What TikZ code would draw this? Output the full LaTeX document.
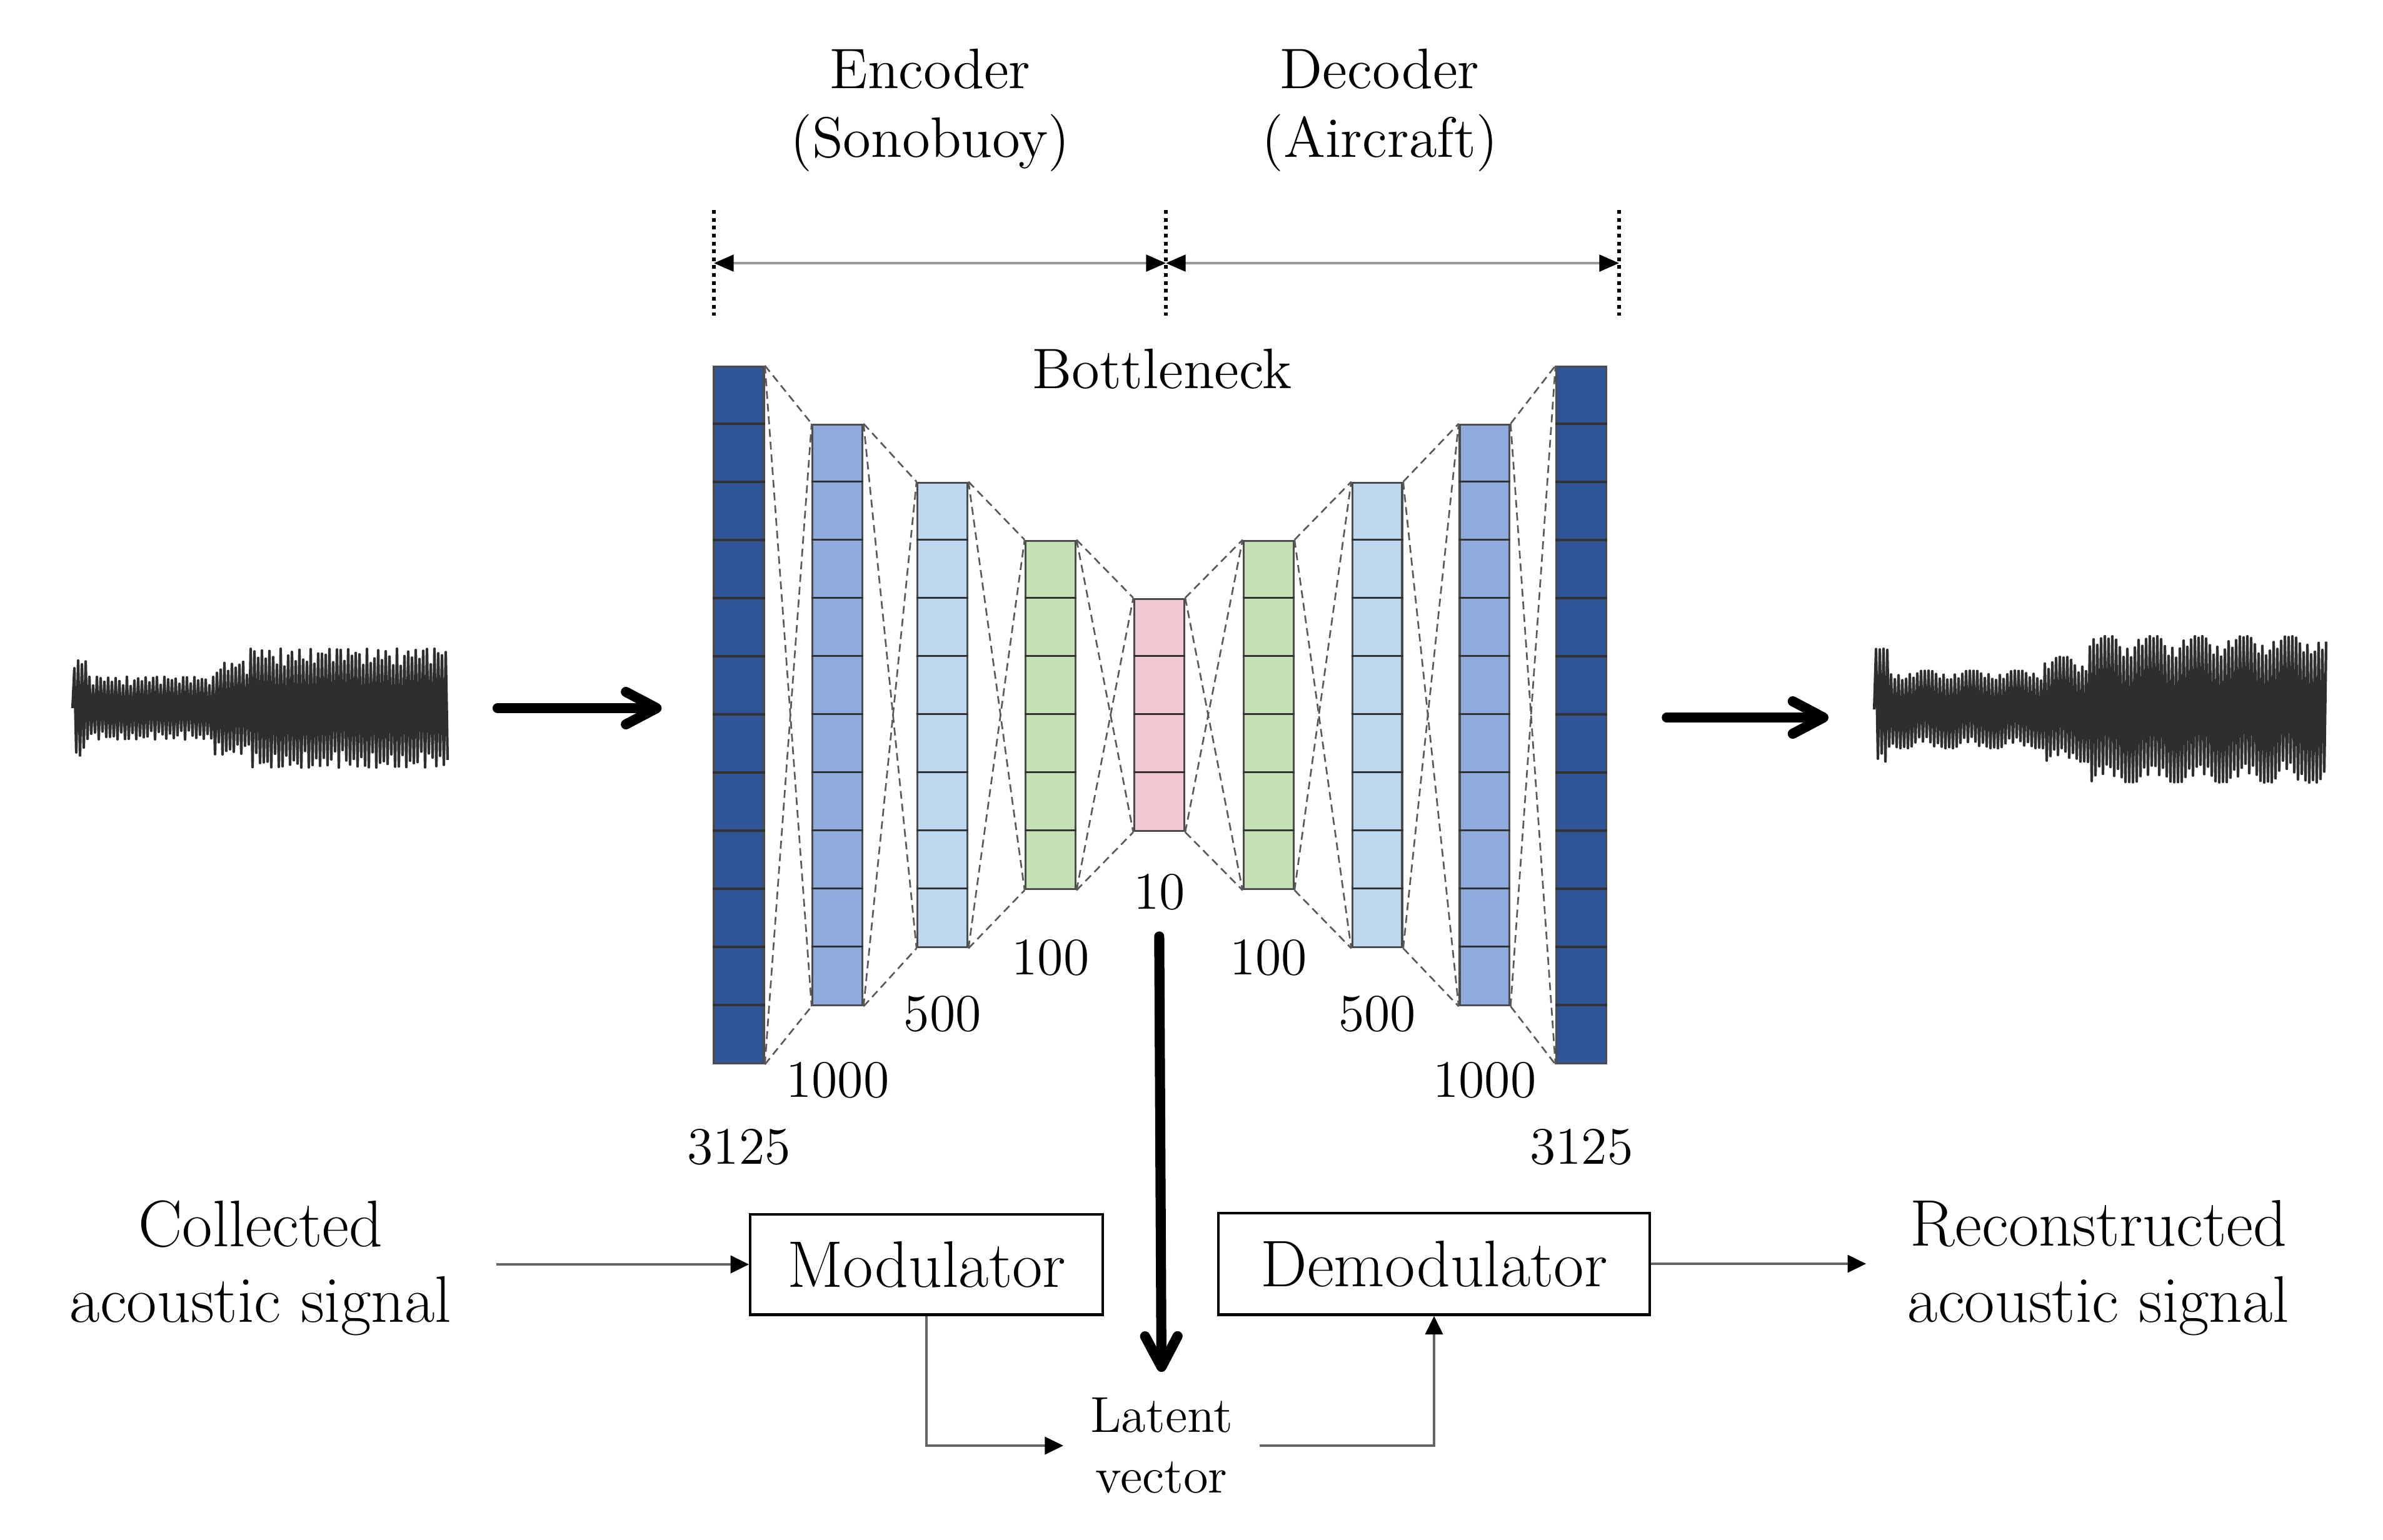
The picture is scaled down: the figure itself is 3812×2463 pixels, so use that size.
\documentclass[tikz,border=0pt]{standalone}
\usepackage{fontspec}
\usepackage{tikz}
\usetikzlibrary{arrows.meta, calc}

\newcommand{\ninput}{3125}
\newcommand{\nfirst}{1000}
\newcommand{\nsecond}{500}
\newcommand{\nthird}{100}
\newcommand{\ncode}{10}

\definecolor{layerdark}{HTML}{2F5597}
\definecolor{layermid}{HTML}{8FAADC}
\definecolor{layerlight}{HTML}{BDD7EE}
\definecolor{layergreen}{HTML}{C5E0B4}
\definecolor{layerpink}{HTML}{F2C8D2}

\tikzstyle{layer} = [rectangle, draw=black!70, line width=0.45pt, minimum width=0.4cm, inner sep=0pt]
\tikzstyle{cell} = [draw=black!80, line width=0.45pt]
\tikzstyle{link} = [draw=black!65, line width=0.38pt, dash pattern=on 1.8pt off 1.1pt]
\tikzstyle{block} = [rectangle, draw=black, line width=0.6pt, font=\fontsize{15}{18}\selectfont]
\tikzstyle{num} = [font=\fontsize{12}{14}\selectfont, inner sep=0pt, anchor=base]
\tikzstyle{heading} = [font=\fontsize{13}{15.6}\selectfont, align=center, inner sep=0pt]
\tikzstyle{signal} = [font=\fontsize{15}{17.3}\selectfont, align=center, inner sep=0pt]
\tikzstyle{latentlabel} = [font=\fontsize{11.5}{13.8}\selectfont, align=center, inner xsep=0.21cm, inner ysep=0.2cm]
\tikzstyle{wave} = [draw=black!82, line width=0.6pt, line join=round]
\tikzstyle{dotline} = [line width=0.85pt, dash pattern=on 0.85pt off 0.95pt]
\tikzstyle{dimarrow} = [draw=black!40, line width=0.5pt, {Triangle[length=4.5pt,width=3.8pt,black]}-{Triangle[length=4.5pt,width=3.8pt,black]}]
\tikzstyle{thinarrow} = [draw=black!60, line width=0.45pt, -{Triangle[length=4.2pt,width=4pt,black]}]
\tikzstyle{fatarrow} = [line width=2.3pt, line cap=round, -{Straight Barb[length=7pt,width=7.4pt,round]}]

\begin{document}
\begin{tikzpicture}[x=0.005cm, y=-0.005cm]

        \useasboundingbox (0,0) rectangle (3812,2463) ;

        % layers of the autoencoder, centre to centre
        \node (input) [layer, fill=layerdark, minimum height=5.58cm] at (1182,1144) {} ;
        \node (enc1) [layer, fill=layermid, minimum height=4.65cm, right of=input, node distance=0.79cm] {} ;
        \node (enc2) [layer, fill=layerlight, minimum height=3.72cm, right of=enc1, node distance=0.84cm] {} ;
        \node (enc3) [layer, fill=layergreen, minimum height=2.79cm, right of=enc2, node distance=0.865cm] {} ;
        \node (code) [layer, fill=layerpink, minimum height=1.86cm, right of=enc3, node distance=0.87cm] {} ;
        \node (dec3) [layer, fill=layergreen, minimum height=2.79cm, right of=code, node distance=0.875cm] {} ;
        \node (dec2) [layer, fill=layerlight, minimum height=3.72cm, right of=dec3, node distance=0.87cm] {} ;
        \node (dec1) [layer, fill=layermid, minimum height=4.65cm, right of=dec2, node distance=0.86cm] {} ;
        \node (output) [layer, fill=layerdark, minimum height=5.58cm, right of=dec1, node distance=0.775cm] {} ;

        % cells
        \foreach \lay/\m in {input/11, enc1/9, enc2/7, enc3/5, code/3, dec3/5, dec2/7, dec1/9, output/11}
            \foreach \k in {1,...,\m}
                \draw [cell] ($(\lay.north west)+(0,93*\k)$) -- ($(\lay.north east)+(0,93*\k)$) ;

        % dashed links between neighbouring layers
        \foreach \a/\b in {input/enc1, enc1/enc2, enc2/enc3, enc3/code, code/dec3, dec3/dec2, dec2/dec1, dec1/output} {
            \draw [link] (\a.north east) -- (\b.north west) ;
            \draw [link] (\a.south east) -- (\b.south west) ;
            \draw [link] (\a.north east) -- (\b.south west) ;
            \draw [link] (\a.south east) -- (\b.north west) ;
        }

        % sizes
        \node (ninput) [num] at ($(input.south)+(0,159)$) {\ninput} ;
        \node (nenc1) [num] at ($(enc1.south)+(0,145)$) {\nfirst} ;
        \node (nenc2) [num] at ($(enc2.south)+(0,132)$) {\nsecond} ;
        \node (nenc3) [num] at ($(enc3.south)+(0,135)$) {\nthird} ;
        \node (ncode) [num] at ($(code.south)+(0,123)$) {\ncode} ;
        \node (ndec3) [num] at ($(dec3.south)+(0,135)$) {\nthird} ;
        \node (ndec2) [num] at ($(dec2.south)+(0,132)$) {\nsecond} ;
        \node (ndec1) [num] at ($(dec1.south)+(0,145)$) {\nfirst} ;
        \node (noutput) [num] at ($(output.south)+(0,159)$) {\ninput} ;

        \node (bneck) [heading, anchor=base] at (1859,621) {Bottleneck} ;

        % encoder / decoder spans
        \node (enclabel) [heading, anchor=north] at (1488,77) {Encoder\\(Sonobuoy)} ;
        \node (declabel) [heading, anchor=north] at (2207,77) {Decoder\\(Aircraft)} ;

        \coordinate (encleft) at (1142,421) ;
        \coordinate (middle) at (1865,421) ;
        \coordinate (decright) at (2590,421) ;
        \foreach \c in {encleft, middle, decright}
            \draw [dotline] ($(\c)+(0,-85)$) -- ($(\c)+(0,84)$) ;
        \draw [dimarrow] (encleft) -- (middle) ;
        \draw [dimarrow] (middle) -- (decright) ;

        % signals
        \draw [wave] (116,1133) \foreach \i in {1,...,200} {
            -- ({116+3*\i},{1133+(1-2*mod(\i,2))*ifthenelse(\i<8,80,ifthenelse(\i<76,50,ifthenelse(\i<95,74,95)))*(0.7+0.3*abs(sin(mod(\i*37,113)*53)))}) } ;
        \draw [wave] (2998,1135) \foreach \i in {1,...,241} {
            -- ({2998+3*\i},{1135+(1-2*mod(\i,2))*ifthenelse(\i<8,97,ifthenelse(\i<91,62,ifthenelse(\i<115,84,117)))*(0.7+0.3*abs(sin(mod(\i*41,109)*59)))}) } ;

        \coordinate (wavein) at (716,1133) ;
        \coordinate (waveout) at (2998,1148) ;
        \draw [fatarrow] ($(wavein)+(80,0)$) -- ($(wavein -| input.west)+(-82,0)$) ;
        \draw [fatarrow] ($(waveout -| output.east)+(95,0)$) -- ($(waveout)+(-73,0)$) ;

        % transmission
        \node (collected) [signal, anchor=north] at (417,1919) {Collected\\acoustic signal} ;
        \node (reconstructed) [signal, anchor=north] at (3357,1919) {Reconstructed\\acoustic signal} ;
        \node (modulator) [block, minimum width=2.82cm, minimum height=0.805cm] at (1482,2023) {Modulator} ;
        \node (demodulator) [block, minimum width=3.455cm, minimum height=0.815cm] at (2294,2022) {Demodulator} ;
        \node (latent) [latentlabel] at (1858,2313) {Latent\\vector} ;

        \coordinate (sigin) at (794,2023) ;
        \coordinate (sigout) at (2985,2022) ;
        \coordinate (bnout) at ($(code.south)+(0,167)$) ;

        \draw [thinarrow] (sigin) -- (modulator.west) ;
        \draw [thinarrow] (demodulator.east) -- (sigout) ;
        \draw [thinarrow] (modulator.south) |- (latent.west) ;
        \draw [thinarrow] (latent.east) -| (demodulator.south) ;
        \draw [fatarrow] (bnout) -- (latent.north) ;

\end{tikzpicture}
\end{document}
